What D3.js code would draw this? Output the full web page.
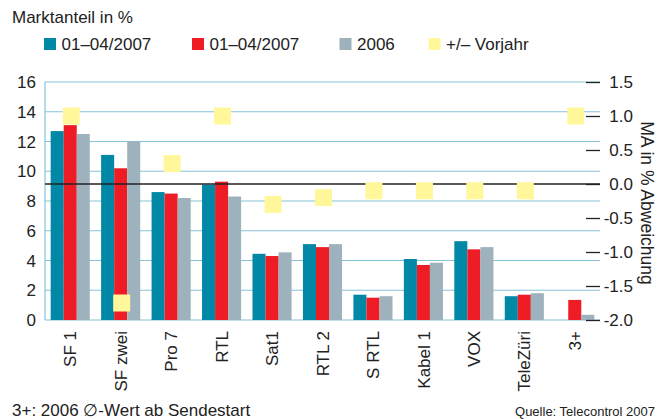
<!DOCTYPE html>
<html>
<head>
<meta charset="utf-8">
<script src="https://cdn.jsdelivr.net/npm/d3@7"></script>
<style>
  body { margin: 0; background: #fff; }
  svg text { font-family: "Liberation Sans", Arial, sans-serif; fill: #222; }
</style>
</head>
<body>
<div id="canvas-wrapper"></div>
<script>
// Marktanteil Schweizer Sender
var categories = ["SF 1", "SF zwei", "Pro 7", "RTL", "Sat1", "RTL 2", "S RTL", "Kabel 1", "VOX", "TeleZüri", "3+"];
var seriesNames = ["01–04/2007", "01–04/2007", "2006", "+/– Vorjahr"];
var share2007a = [12.7, 11.1, 8.6, 9.1, 4.45, 5.1, 1.7, 4.1, 5.3, 1.6, 0];
var share2007b = [13.1, 10.2, 8.5, 9.3, 4.3, 4.9, 1.5, 3.7, 4.75, 1.7, 1.35];
var share2006 = [12.5, 12.0, 8.2, 8.3, 4.55, 5.1, 1.6, 3.85, 4.9, 1.8, 0.35];
var deltaVorjahr = [1.0, -1.75, 0.3, 1.0, -0.3, -0.2, -0.1, -0.1, -0.1, -0.1, 1.0];
var leftTicks = [0, 2, 4, 6, 8, 10, 12, 14, 16];
var rightTicks = [-2.0, -1.5, -1.0, -0.5, 0.0, 0.5, 1.0, 1.5];

var colors = ["#0088a6", "#ee1c25", "#9db2bc", "#fff79a"];
var gridColor = "#86c3d8";

function chart_this() {
  var W = 670, H = 419;
  var margin = {top: 82, right: 70, bottom: 99, left: 45};
  var x0 = margin.left, x1 = W - margin.right, yTop = margin.top, yBot = H - margin.bottom;

  var svg = d3.select("#canvas-wrapper").append("svg")
      .attr("width", W)
      .attr("height", H);

  var x = d3.scaleBand().domain(categories).range([x0, x1]).padding(0);
  var groupW = x.bandwidth() * 0.775;
  var xs = d3.scaleBand().domain([0, 1, 2]).range([0, groupW]);
  var y = d3.scaleLinear().domain([0, 16]).range([yBot, yTop]);
  var y2 = d3.scaleLinear().domain([-2, 1.5]).range([yBot, yTop]);

  // title
  svg.append("text")
    .attr("x", 12).attr("y", 23)
    .style("font-size", "17px")
    .text("Marktanteil in %");

  // legend
  var legendX = [44, 192, 339.5, 428.5];
  var leg = svg.selectAll(".legend").data(seriesNames).enter().append("g")
    .attr("class", "legend")
    .attr("transform", function(d, i) { return "translate(" + legendX[i] + ",38)"; });
  leg.append("rect").attr("width", 12).attr("height", 12)
    .attr("fill", function(d, i) { return colors[i]; });
  leg.append("text").attr("x", 17.5).attr("y", 12)
    .style("font-size", "17px")
    .text(function(d) { return d; });

  // grid lines
  svg.append("g").selectAll("line").data(leftTicks).enter().append("line")
    .attr("x1", x0).attr("x2", x1)
    .attr("y1", function(d) { return y(d); }).attr("y2", function(d) { return y(d); })
    .attr("stroke", gridColor).attr("stroke-width", 1.2);
  svg.append("line")
    .attr("x1", x0).attr("x2", x0).attr("y1", yTop).attr("y2", yBot)
    .attr("stroke", gridColor).attr("stroke-width", 1.2);

  // left axis labels
  svg.append("g").selectAll("text").data(leftTicks).enter().append("text")
    .attr("x", 36).attr("y", function(d) { return y(d); })
    .attr("dy", "0.36em")
    .attr("text-anchor", "end")
    .style("font-size", "17px")
    .text(function(d) { return d; });

  // bars
  var seriesVals = [share2007a, share2007b, share2006];
  var off = (x.bandwidth() - groupW) / 2;
  seriesVals.forEach(function(vals, s) {
    svg.append("g").selectAll("rect").data(vals).enter().append("rect")
      .attr("x", function(d, i) { return x(categories[i]) + off + xs(s); })
      .attr("width", xs.bandwidth())
      .attr("y", function(d) { return y(d); })
      .attr("height", function(d) { return yBot - y(d); })
      .attr("fill", colors[s]);
  });

  // zero line of right axis
  svg.append("line")
    .attr("x1", x0).attr("x2", x1)
    .attr("y1", y2(0)).attr("y2", y2(0))
    .attr("stroke", "#222").attr("stroke-width", 1.5);

  // right axis
  var ra = svg.append("g")
    .attr("transform", "translate(" + x1 + ",0)")
    .call(d3.axisRight(y2).tickValues(rightTicks).tickSize(0));
  ra.select(".domain").remove();
  ra.selectAll(".tick line").attr("x1", -14).attr("x2", 0).attr("stroke", "#222").attr("stroke-width", 1.3);
  ra.selectAll(".tick text")
    .attr("x", 33).attr("text-anchor", "end")
    .style("font-size", "17px").style("font-family", "Liberation Sans, Arial, sans-serif")
    .attr("fill", "#222")
    .text(function(d) { return d.toFixed(1); });

  svg.append("text")
    .attr("transform", "translate(641," + ((yTop + yBot) / 2 + 2) + ") rotate(90)")
    .attr("text-anchor", "middle")
    .style("font-size", "17.5px")
    .text("MA in % Abweichung");

  // yellow markers
  var sq = 17;
  svg.append("g").selectAll("rect").data(deltaVorjahr).enter().append("rect")
    .attr("x", function(d, i) { return x(categories[i]) + x.bandwidth() / 2 + 1 - sq / 2; })
    .attr("y", function(d) { return y2(d) - sq / 2; })
    .attr("width", sq).attr("height", sq)
    .attr("fill", colors[3]);

  // category labels
  svg.append("g").selectAll("text").data(categories).enter().append("text")
    .attr("transform", function(d) { return "translate(" + (x(d) + x.bandwidth() / 2) + "," + (yBot + 11) + ") rotate(-90)"; })
    .attr("dy", "0.36em")
    .attr("text-anchor", "end")
    .style("font-size", "17px")
    .text(function(d) { return d; });

  // footer
  svg.append("text")
    .attr("x", 12).attr("y", 416)
    .style("font-size", "17px")
    .text("3+: 2006 \u2205-Wert ab Sendestart");
  svg.append("text")
    .attr("x", 655).attr("y", 416)
    .attr("text-anchor", "end")
    .style("font-size", "13px")
    .text("Quelle: Telecontrol 2007");
}

chart_this();
</script>
</body>
</html>
